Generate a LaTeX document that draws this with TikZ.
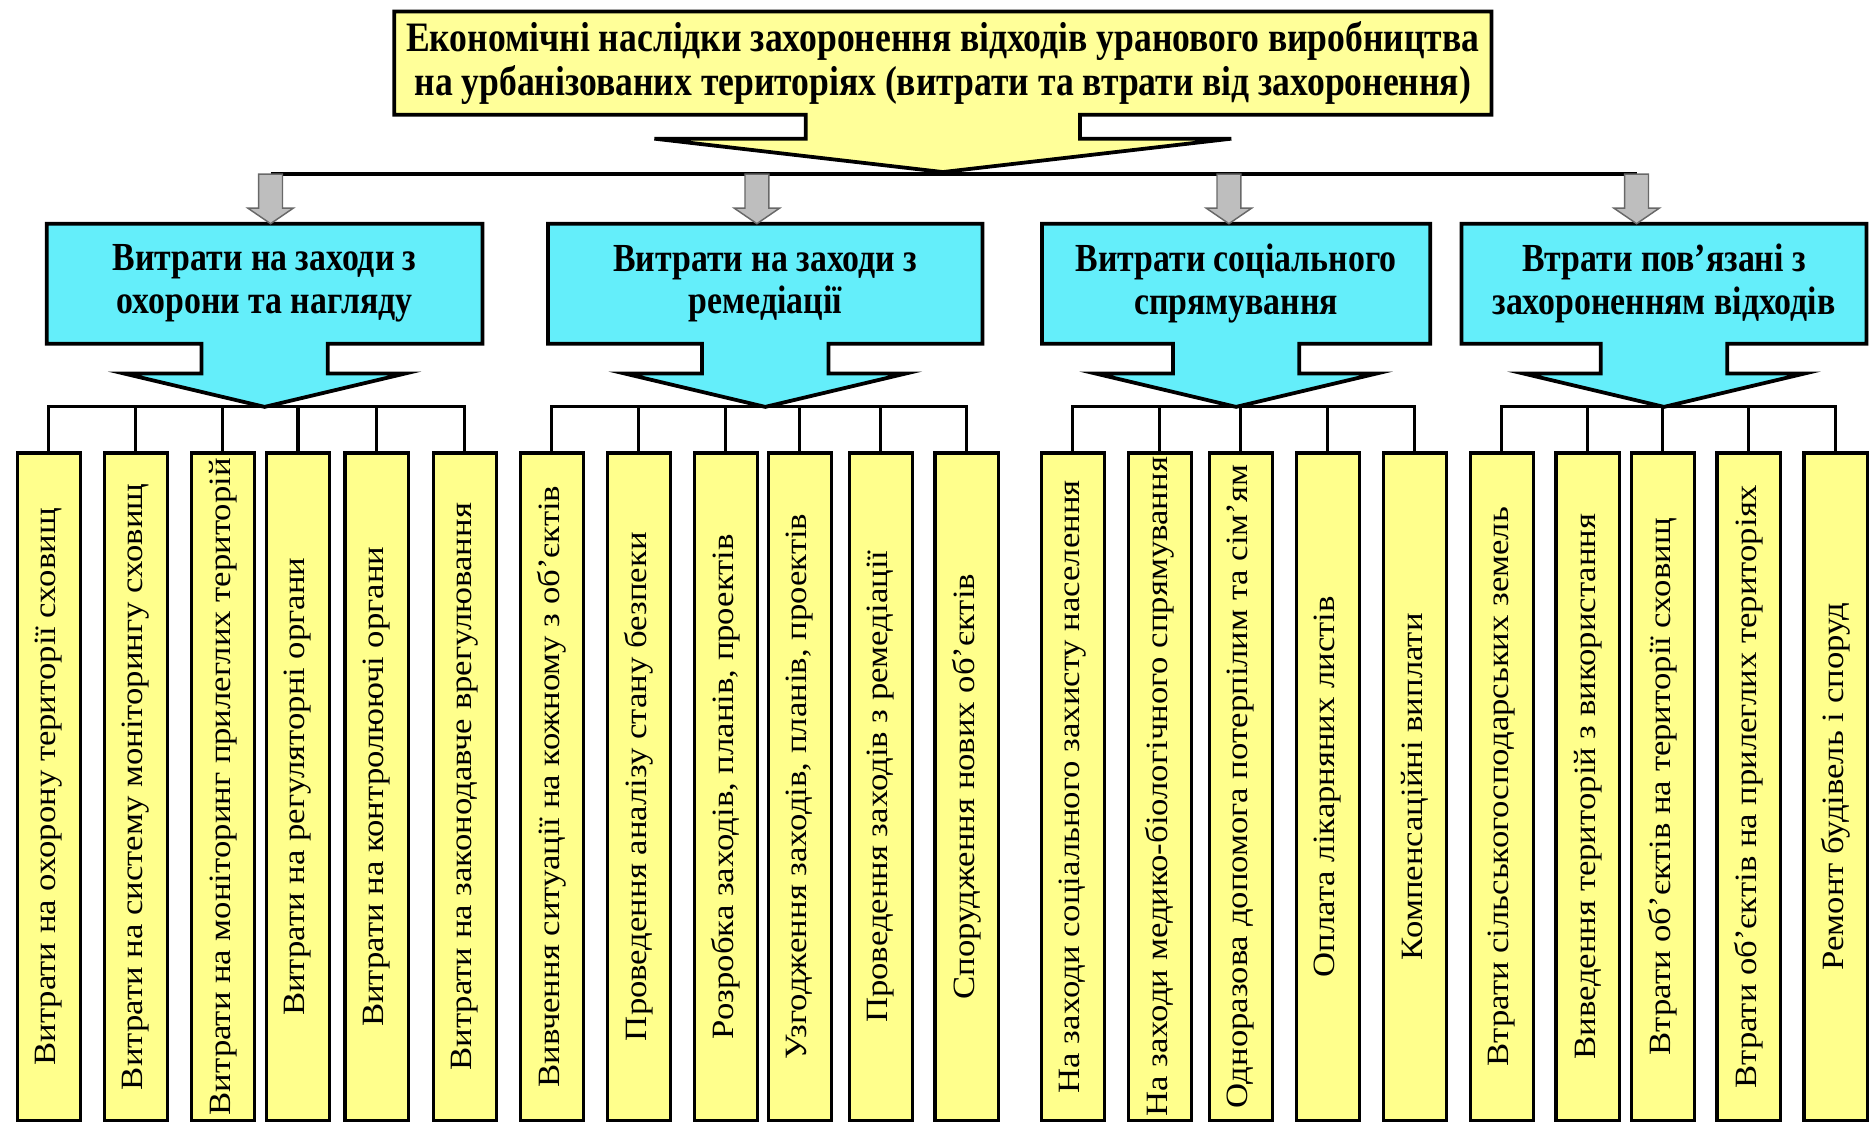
\documentclass[tikz,border=0pt]{standalone}
\usepackage{fontspec}
\setmainfont{Liberation Serif}
\newfontfamily\headfont[FakeStretch=0.85]{Liberation Serif}
\newfontfamily\leaffont[FakeStretch=1.12]{Liberation Serif}
\usepackage{xcolor}
\usepackage{tikz}
\usetikzlibrary{positioning, calc, backgrounds}

\definecolor{paleyellow}{RGB}{255,255,153}
\definecolor{leafyellow}{RGB}{255,255,140}
\definecolor{aqua}{RGB}{100,238,250}
\definecolor{arrowgrey}{RGB}{190,190,190}

\begin{document}
\begin{tikzpicture}[
        x=0.02cm, y=-0.02cm,
        headbox/.style={rectangle, align=center, inner sep=0pt, font=\headfont\bfseries\fontsize{19}{20.5}\selectfont},
        groupbox/.style={headbox, minimum height=2cm},
        leaf/.style={rectangle, draw=black, line width=1.6pt, fill=leafyellow, minimum width=1.06cm, minimum height=11.2cm, inner sep=0pt, font=\leaffont\fontsize{14.8}{16}\selectfont},
        outline/.style={draw=black, line width=1.8pt, line join=miter},
        bus/.style={draw=black, line width=1.5pt},
        greyarrow/.style={draw=arrowgrey!55!black, fill=arrowgrey, line width=0.7pt}
    ]
    \useasboundingbox (0,0) rectangle (1568,943);

    % --- NODES ---
    \node (title) [headbox, minimum width=18.4cm, minimum height=1.72cm, font=\headfont\bfseries\fontsize{20}{21}\selectfont] at (791,53) {Економічні наслідки захоронення відходів уранового виробництва\\на урбанізованих територіях (витрати та втрати від захоронення)};

    \node (g1) [groupbox, minimum width=7.3cm] at (222,238) {Витрати на заходи з\\охорони та нагляду};
    \node (g2) [groupbox, minimum width=7.28cm] at (642,238) {Витрати на заходи з\\ремедіації};
    \node (g3) [groupbox, minimum width=6.5cm] at (1037,238) {Витрати соціального\\спрямування};
    \node (g4) [groupbox, minimum width=6.78cm] at (1396,238) {Втрати пов’язані з\\захороненням відходів};

    % 1. Protection and supervision
    \node (l11) [leaf] at (41,660) {\rotatebox{90}{Витрати на охорону території сховищ}};
    \node (l12) [leaf] at (114,660) {\rotatebox{90}{Витрати на систему моніторингу сховищ}};
    \node (l13) [leaf] at (187,660) {\rotatebox{90}{Витрати на моніторинг прилеглих територій}};
    \node (l14) [leaf] at (250,660) {\rotatebox{90}{Витрати на регуляторні органи}};
    \node (l15) [leaf] at (316,660) {\rotatebox{90}{Витрати на контролюючі органи}};
    \node (l16) [leaf] at (390,660) {\rotatebox{90}{Витрати на законодавче врегулювання}};

    % 2. Remediation
    \node (l21) [leaf] at (463,660) {\rotatebox{90}{Вивчення ситуації на кожному з об’єктів}};
    \node (l22) [leaf] at (536,660) {\rotatebox{90}{Проведення аналізу стану безпеки}};
    \node (l23) [leaf] at (609,660) {\rotatebox{90}{Розробка заходів, планів, проектів}};
    \node (l24) [leaf] at (671,660) {\rotatebox{90}{Узгодження заходів, планів, проектів}};
    \node (l25) [leaf] at (739,660) {\rotatebox{90}{Проведення заходів з ремедіації}};
    \node (l26) [leaf] at (811,660) {\rotatebox{90}{Спорудження нових об’єктів}};

    % 3. Social
    \node (l31) [leaf] at (900,660) {\rotatebox{90}{На заходи соціального захисту населення}};
    \node (l32) [leaf] at (973,660) {\rotatebox{90}{На заходи медико-біологічного спрямування}};
    \node (l33) [leaf] at (1041,660) {\rotatebox{90}{Одноразова допомога потерпілим та сім’ям}};
    \node (l34) [leaf] at (1114,660) {\rotatebox{90}{Оплата лікарняних листів}};
    \node (l35) [leaf] at (1187,660) {\rotatebox{90}{Компенсаційні виплати}};

    % 4. Losses
    \node (l41) [leaf] at (1260,660) {\rotatebox{90}{Втрати сільськогосподарських земель}};
    \node (l42) [leaf] at (1332,660) {\rotatebox{90}{Виведення територій з використання}};
    \node (l43) [leaf] at (1395,660) {\rotatebox{90}{Втрати об’єктів на території сховищ}};
    \node (l44) [leaf] at (1467,660) {\rotatebox{90}{Втрати об’єктів на прилеглих територіях}};
    \node (l45) [leaf] at (1540,660) {\rotatebox{90}{Ремонт будівель і споруд}};

    % --- CALLOUT SHAPES ---
    \begin{scope}[on background layer]
        \draw[outline, fill=paleyellow] (title.north west) -- (title.north east) -- (title.south east)
            -- ($(title.south)+(115,0)$) -- ++(0,20) -- ++(127,0) -- ($(title.south)+(0,48)$)
            -- ($(title.south)+(-242,20)$) -- ++(127,0) -- ($(title.south)+(-115,0)$)
            -- (title.south west) -- cycle;
        \foreach \g in {g1,g2,g3,g4}
            \draw[outline, fill=aqua] (\g.north west) -- (\g.north east) -- (\g.south east)
                -- ($(\g.south)+(53,0)$) -- ++(0,25) -- ++(65,0) -- ($(\g.south)+(0,53)$)
                -- ($(\g.south)+(-118,25)$) -- ++(65,0) -- ($(\g.south)+(-53,0)$)
                -- (\g.south west) -- cycle;
    \end{scope}
    \foreach \g in {g1,g2,g3,g4}
        \coordinate (\g tip) at ($(\g.south)+(0,53)$);

    % --- ARROWS ---
    \coordinate (a1) at (227,146);
    \coordinate (a2) at (635,146);
    \coordinate (a3) at (1031,146);
    \coordinate (a4) at (1373,146);
    \draw[bus] (a1) -- (a4);
    \foreach \a/\g in {a1/g1,a2/g2,a3/g3,a4/g4} {
        \coordinate (\a tip) at (\a |- \g.north);
        \draw[greyarrow] ($(\a)+(-10,0)$) -- ($(\a)+(10,0)$) -- ($(\a tip)+(10,-13)$)
            -- ($(\a tip)+(19,-13)$) -- (\a tip) -- ($(\a tip)+(-19,-13)$)
            -- ($(\a tip)+(-10,-13)$) -- cycle;
    }

    % Branches to the cost items
    \foreach \i in {1,...,6} \draw[bus] (g1tip) -| (l1\i.north);
    \foreach \i in {1,...,6} \draw[bus] (g2tip) -| (l2\i.north);
    \foreach \i in {1,...,5} \draw[bus] (g3tip) -| (l3\i.north);
    \foreach \i in {1,...,5} \draw[bus] (g4tip) -| (l4\i.north);

\end{tikzpicture}
\end{document}
